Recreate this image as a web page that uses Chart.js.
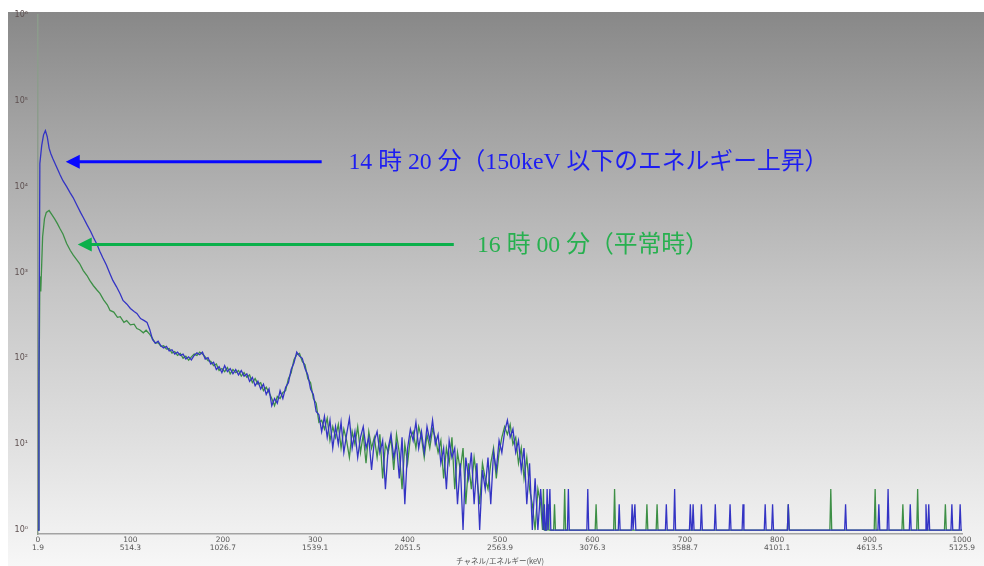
<!DOCTYPE html>
<html>
<head>
<meta charset="utf-8">
<style>
  html, body { margin: 0; padding: 0; background: #fff; }
</style>
</head>
<body>
<canvas id="spectrumChart" width="984" height="566"></canvas>
<script src="https://cdn.jsdelivr.net/npm/chart.js@4/dist/chart.umd.min.js"></script>
<script>
// x axis: channel number with its energy (keV) underneath
const xTickChannels = [0, 100, 200, 300, 400, 500, 600, 700, 800, 900, 1000];
const xTickEnergies = ['1.9', '514.3', '1026.7', '1539.1', '2051.5', '2563.9', '3076.3', '3588.7', '4101.1', '4613.5', '5125.9'];
const yTickValues = [1, 10, 100, 1000, 10000, 100000, 1000000];
const yTickLabels = ['10⁰', '10¹', '10²', '10³', '10⁴', '10⁵', '10⁶'];

// [channel, counts] near the low-energy peak
const blueHead = [[0, 1], [1, 60], [2, 18500], [4, 30000], [6, 40000], [8, 44800], [10, 38000], [12, 28000], [14, 24000],
  [16, 21200], [20, 17000], [24, 13600], [27, 11700], [31, 10000], [35, 8400], [38, 7450], [42, 6100], [46, 5000],
  [49, 4370], [53, 3600], [57, 3000], [60, 2550], [64, 2100], [67, 1750], [70, 1490], [74, 1220], [78, 960], [81, 807],
  [85, 680], [89, 560], [92, 472], [96, 430], [100, 380], [104, 350], [107, 333], [111, 290], [115, 275], [118, 262], [121, 215]];
const greenHead = [[0, 1], [1, 30], [2, 900], [3, 600], [5, 2600], [7, 4200], [9, 5000], [12, 5260], [15, 4700], [18, 4200],
  [21, 3700], [24, 3200], [27, 2800], [31, 2170], [35, 1800], [38, 1600], [41, 1450], [45, 1270], [49, 1050], [53, 920],
  [56, 807], [60, 700], [64, 620], [67, 570], [71, 480], [75, 420], [78, 361], [82, 345], [86, 300], [89, 305], [93, 262],
  [96, 275], [100, 245], [104, 250], [107, 222], [110, 215], [114, 198], [117, 212], [121, 190]];

// counts every 3 channels from channel 124 to 544
const bodyChannels = [];
for (let c = 124; c <= 544; c += 3) bodyChannels.push(c);
const blueBody = [
  165, 150, 158, 140, 132, 138, 122, 126, 112, 118, 108, 112, 98, 104, 96, 108, 116, 110,
  118, 98, 102, 86, 90, 74, 80, 68, 82, 70, 76, 66, 74, 64, 72, 62, 66, 54, 60, 48, 54, 44, 50, 38, 44, 28, 34, 30, 42, 34, 46, 52, 74, 88, 118,
  106, 100, 76, 64, 44, 38, 24, 22, 14, 21, 12, 19, 9,
  16, 10, 18, 8, 13, 20, 9, 14, 7, 12, 16, 9, 12, 5, 11, 14, 8, 11, 3, 9, 13, 7, 10, 4, 12, 2, 9, 15, 11, 18, 9, 14, 8, 16, 11, 19, 10,
  13, 6, 9, 3, 11, 7, 9, 2, 6, 1, 7, 4, 8, 2, 6, 1, 5, 3, 7, 2, 8, 5, 11, 8, 14, 19, 12, 15, 8, 11, 5, 9, 2, 6, 1, 4, 1, 3
];
const greenBody = [
  170, 150, 152, 138, 140, 128, 130, 115, 120, 108, 114, 100, 106, 95, 104, 112, 108, 118,
  112, 104, 94, 92, 82, 86, 72, 76, 70, 78, 66, 74, 68, 72, 62, 68, 60, 64, 52, 58, 50, 52, 42, 46, 40, 34, 28, 36, 34, 40, 42, 58, 68, 96, 110,
  114, 92, 84, 58, 52, 34, 30, 18, 19, 15, 20, 11, 16,
  12, 17, 9, 15, 11, 7, 14, 10, 16, 8, 13, 6, 14, 9, 12, 7, 13, 4, 10, 8, 12, 5, 13, 8, 3, 10, 6, 12, 14, 9, 16, 12, 7, 13, 9, 15, 12,
  8, 11, 4, 9, 6, 12, 3, 8, 5, 9, 2, 6, 3, 7, 4, 2, 6, 4, 3, 6, 9, 4, 8, 12, 16, 13, 17, 10, 12, 6, 9, 4, 7, 3, 2, 1, 3, 2
];

// high-energy tail: single-channel hits [channel, counts] on a baseline of 1
const blueSpikes = [[548, 2], [551, 3], [554, 3], [574, 3], [595, 3], [629, 2], [643, 2], [646, 2], [680, 2], [689, 3], [706, 2],
  [709, 2], [718, 2], [733, 2], [749, 2], [763, 2], [787, 2], [795, 2], [812, 2], [874, 2], [910, 2], [920, 3], [944, 2],
  [961, 2], [964, 2], [989, 2], [998, 2]];
const greenSpikes = [[547, 3], [552, 2], [559, 2], [570, 3], [604, 2], [624, 3], [659, 2], [670, 2], [812, 2], [858, 3],
  [906, 3], [936, 2], [952, 3], [982, 2]];
const tailBaseline = 1;
const lastChannel = 1000;

const annotations = [
  { text: '14 時 20 分（150keV 以下のエネルギー上昇）', color: '#1d1df2', lineColor: '#0808ff', tip: [30, 19500], tail: 307, textAt: 336 },
  { text: '16 時 00 分（平常時）', color: '#27b04f', lineColor: '#0bb04b', tip: [43, 2120], tail: 450, textAt: 475 }
];

function buildSeries(head, body, spikes) {
  const pts = head.slice();
  bodyChannels.forEach((c, i) => pts.push([c, body[i]]));
  spikes.forEach(s => {
    pts.push([s[0] - 1, tailBaseline]);
    pts.push(s);
    pts.push([s[0] + 1, tailBaseline]);
  });
  pts.push([lastChannel, tailBaseline]);
  return pts;
}

const panelBackground = {
  id: 'panelBackground',
  beforeDraw(chart) {
    const ctx = chart.ctx;
    ctx.save();
    ctx.fillStyle = '#ffffff';
    ctx.fillRect(0, 0, chart.width, chart.height);
    const g = ctx.createLinearGradient(0, 12, 0, chart.height);
    g.addColorStop(0, '#888888');
    g.addColorStop(0.2, '#a2a2a2');
    g.addColorStop(0.5, '#c6c6c6');
    g.addColorStop(0.8, '#e2e2e2');
    g.addColorStop(1, '#f7f7f7');
    ctx.fillStyle = g;
    ctx.fillRect(8, 12, chart.width - 8, chart.height - 12);
    ctx.restore();
  }
};

const callouts = {
  id: 'callouts',
  afterDatasetsDraw(chart) {
    const { ctx, scales: { x, y } } = chart;
    ctx.save();
    annotations.forEach(a => {
      const tipX = x.getPixelForValue(a.tip[0]);
      const py = y.getPixelForValue(a.tip[1]);
      ctx.strokeStyle = a.lineColor;
      ctx.fillStyle = a.lineColor;
      ctx.lineWidth = 3;
      ctx.beginPath();
      ctx.moveTo(tipX + 12, py);
      ctx.lineTo(x.getPixelForValue(a.tail), py);
      ctx.stroke();
      ctx.beginPath();
      ctx.moveTo(tipX, py);
      ctx.lineTo(tipX + 14, py - 7);
      ctx.lineTo(tipX + 14, py + 7);
      ctx.closePath();
      ctx.fill();
      ctx.fillStyle = a.color;
      ctx.font = '23.8px "Liberation Serif", "Noto Sans CJK JP"';
      ctx.textBaseline = 'middle';
      ctx.fillText(a.text, x.getPixelForValue(a.textAt), py + 1);
    });
    ctx.restore();
  }
};

const ctx = document.getElementById('spectrumChart').getContext('2d');
const spectrumChart = new Chart(ctx, {
  type: 'line',
  data: {
    datasets: [{
      label: '14時20分',
      data: buildSeries(blueHead, blueBody, blueSpikes),
      borderColor: '#3434c4',
      borderWidth: 1.3,
      pointRadius: 0,
      tension: 0
    },
    {
      label: '16時00分',
      data: buildSeries(greenHead, greenBody, greenSpikes),
      borderColor: '#3d8f46',
      borderWidth: 1.3,
      pointRadius: 0,
      tension: 0
    }]
  },
  options: {
    responsive: false,
    animation: false,
    layout: { padding: { left: 0, right: 22, top: 14, bottom: 0 } },
    plugins: {
      legend: { display: false },
      tooltip: { enabled: false }
    },
    scales: {
      x: {
        type: 'linear',
        min: 0,
        max: lastChannel,
        afterBuildTicks: s => { s.ticks = xTickChannels.map(v => ({ value: v })); },
        afterFit: s => { s.height = 32; },
        grid: { display: false, drawTicks: false },
        border: { color: '#a3a3a3', width: 1.5 },
        ticks: {
          autoSkip: false,
          maxRotation: 0,
          padding: 2,
          color: '#555555',
          font: { family: 'DejaVu Sans', size: 7.5, lineHeight: 1.1 },
          callback: (v, i) => [String(xTickChannels[i]), xTickEnergies[i]]
        },
        title: {
          display: true,
          text: 'チャネル/エネルギー(keV)',
          color: '#555555',
          font: { family: 'Noto Sans CJK JP', size: 7.5 },
          padding: { top: 1, bottom: 0 }
        }
      },
      y: {
        type: 'logarithmic',
        min: 0.9,
        max: 1000000,
        afterBuildTicks: s => { s.ticks = yTickValues.map(v => ({ value: v })); },
        afterFit: s => { s.width = 38; },
        grid: { display: false, drawTicks: false },
        border: { color: '#8c9c8c', width: 1.5 },
        ticks: {
          padding: 10,
          color: '#5e5050',
          font: { family: 'DejaVu Sans', size: 8 },
          callback: (v, i) => yTickLabels[i]
        }
      }
    }
  },
  plugins: [panelBackground, callouts]
});
</script>
</body>
</html>
